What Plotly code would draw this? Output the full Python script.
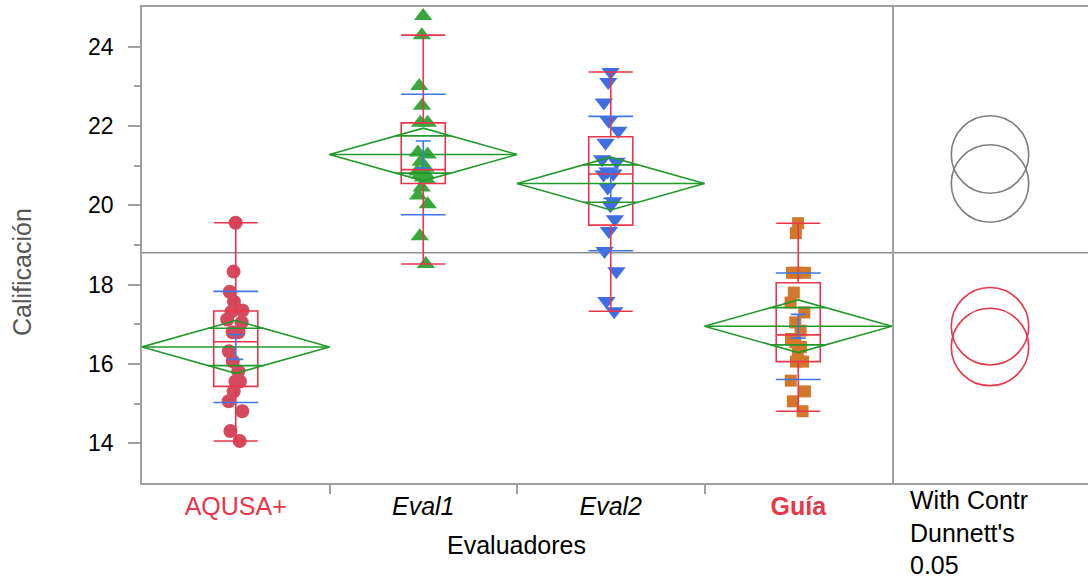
import numpy as np
import plotly.graph_objects as go

# ---------------- data ----------------
categories = ["AQUSA+", "Eval1", "Eval2", "Guía"]
aqusa = [19.56, 18.33, 17.82, 17.57, 17.35, 17.32, 17.12, 17.05, 16.80, 16.80,
         16.32, 16.07, 15.82, 15.56, 15.56, 15.31, 15.06, 14.81, 14.31, 14.06]
eval1 = [24.77, 24.29, 23.01, 22.51, 22.08, 22.08, 21.33, 21.28, 21.10, 20.95,
         20.85, 20.78, 20.78, 20.70, 20.65, 20.45, 20.25, 20.03, 19.22, 18.52]
eval2 = [23.36, 23.11, 22.59, 22.13, 21.88, 21.58, 21.16, 21.10, 20.85, 20.80,
         20.78, 20.45, 20.10, 20.00, 19.65, 19.35, 18.85, 18.34, 17.59, 17.33]
guia = [19.55, 19.30, 18.30, 18.30, 18.30, 17.80, 17.55, 17.30, 17.05, 16.84,
        16.63, 16.55, 16.43, 16.25, 16.06, 16.06, 15.58, 15.31, 15.06, 14.81]
tick_labels = [
    "<span style='color:#E8364A'>AQUSA+</span>",
    "<i>Eval1</i>",
    "<i>Eval2</i>",
    "<span style='color:#E8364A'><b>Guía</b></span>",
]
y_ticks = [14, 16, 18, 20, 22, 24]
y_minor = [15, 17, 19, 21, 23]
control = "Guía"
t_crit = 1.99        # t(0.975, 76 df) for the means diamonds
dunnett_d = 2.92     # comparison-circle multiplier
panel_text = ["With Contr", "Dunnett's", "0.05"]

groups = [aqusa, eval1, eval2, guia]

# ---------------- styles ----------------
FONT = "Liberation Sans, Arial, sans-serif"
BOX_RED = "#E8364A"
GREEN = "#22992A"
BLUE = "#3D78E6"
GRAY = "#A0A0A0"
marker_styles = [
    dict(symbol="circle", color="#D44A5C", size=14),
    dict(symbol="triangle-up", color="#38A83E", size=16),
    dict(symbol="triangle-down", color="#3F6EE0", size=16),
    dict(symbol="square", color="#D3782A", size=12),
]
BOX_W = 0.235

# ---------------- statistics ----------------
arrs = [np.array(g, dtype=float) for g in groups]
n = np.array([len(a) for a in arrs])
means = np.array([a.mean() for a in arrs])
sds = np.array([a.std(ddof=1) for a in arrs])
ses = sds / np.sqrt(n)
pooled_var = sum(((a - a.mean()) ** 2).sum() for a in arrs) / (n.sum() - len(arrs))
pooled_se = np.sqrt(pooled_var) / np.sqrt(n)
ci_half = t_crit * pooled_se
grand_mean = np.concatenate(arrs).mean()
radius = dunnett_d * pooled_se
ctrl = categories.index(control)

fig = go.Figure()

# points (drawn first so the box outlines sit on top)
for i, (a, ms) in enumerate(zip(arrs, marker_styles)):
    fig.add_trace(go.Box(
        x=[i] * len(a), y=a, width=BOX_W, boxpoints="all", jitter=0.45, pointpos=0,
        marker=dict(symbol=ms["symbol"], color=ms["color"], size=ms["size"]),
        line=dict(width=0, color="rgba(0,0,0,0)"), fillcolor="rgba(0,0,0,0)",
        quartilemethod="exclusive", showlegend=False, hoverinfo="y",
    ))

# box outlines (outlier markers hidden, whiskers stop at 1.5 IQR fences)
for i, a in enumerate(arrs):
    fig.add_trace(go.Box(
        x=[i] * len(a), y=a, width=BOX_W, boxpoints="outliers", whiskerwidth=1,
        marker=dict(opacity=0, size=1),
        line=dict(color=BOX_RED, width=1.6), fillcolor="rgba(0,0,0,0)",
        quartilemethod="exclusive", showlegend=False, hoverinfo="skip",
    ))

# means diamonds with overlap marks
k = np.sqrt(2) / 2
for i in range(len(arrs)):
    m, h = means[i], ci_half[i]
    fig.add_trace(go.Scatter(
        x=[i - 0.5, i, i + 0.5, i, i - 0.5, None, i - 0.5, i + 0.5],
        y=[m, m + h, m, m - h, m, None, m, m],
        mode="lines", line=dict(color=GREEN, width=1.6),
        showlegend=False, hoverinfo="skip",
    ))
    w = 0.5 * (1 - k)
    fig.add_trace(go.Scatter(
        x=[i - w, i + w, None, i - w, i + w],
        y=[m + k * h, m + k * h, None, m - k * h, m - k * h],
        mode="lines", line=dict(color=GREEN, width=1.6),
        showlegend=False, hoverinfo="skip",
    ))

# mean error bars (± standard error)
xs = list(range(len(arrs)))
fig.add_trace(go.Scatter(
    x=xs, y=means, mode="markers", marker=dict(size=1, color="rgba(0,0,0,0)"),
    error_y=dict(type="data", array=ses, color=BLUE, thickness=1.6, width=7.5),
    showlegend=False, hoverinfo="skip",
))
# standard deviation lines
fig.add_trace(go.Scatter(
    x=xs + xs, y=list(means + sds) + list(means - sds), mode="markers",
    marker=dict(symbol="line-ew", size=32, line=dict(color=BLUE, width=1.6)),
    showlegend=False, hoverinfo="skip",
))

# comparison circles (Dunnett's with control)
for i in range(len(arrs)):
    diff = abs(means[i] - means[ctrl])
    sig = diff > dunnett_d * np.sqrt(pooled_se[i] ** 2 + pooled_se[ctrl] ** 2)
    col = "#7F7F7F" if sig else BOX_RED
    r = radius[i]
    fig.add_shape(type="circle", xref="x2", yref="y",
                  x0=-r, x1=r, y0=means[i] - r, y1=means[i] + r,
                  line=dict(color=col, width=1.6))

# grand mean line
fig.add_shape(type="line", xref="paper", yref="y", x0=0, x1=1,
              y0=grand_mean, y1=grand_mean, line=dict(color="#909090", width=1.6),
              layer="below")

main_end = (892 - 142) / 946

fig.update_layout(
    width=1088, height=581,
    margin=dict(l=142, r=0, t=7, b=98),
    paper_bgcolor="white", plot_bgcolor="white",
    font=dict(family=FONT, size=23, color="black"),
    boxmode="overlay",
    xaxis=dict(
        domain=[0, main_end], range=[-0.5, 3.5],
        tickvals=xs, ticktext=tick_labels, ticks="",
        tickfont=dict(size=25, color="black"),
        showline=True, linecolor=GRAY, linewidth=1.5, mirror=True,
        showgrid=False, zeroline=False,
        minor=dict(tickvals=[0.5, 1.5, 2.5], ticks="outside", ticklen=9,
                   tickcolor=GRAY, tickwidth=1.5),
    ),
    xaxis2=dict(
        domain=[main_end, 1], anchor="y", range=[-2.3, 2.3],
        scaleanchor="y", scaleratio=1,
        showline=True, linecolor=GRAY, linewidth=1.5, mirror=True,
        showticklabels=False, ticks="", showgrid=False, zeroline=False,
    ),
    yaxis=dict(
        range=[13, 25], tickvals=y_ticks, ticks="outside", ticklen=12,
        tickcolor=GRAY, tickwidth=1.5, tickfont=dict(size=23, color="black"),
        ticklabelstandoff=10,
        showline=True, linecolor=GRAY, linewidth=1.5, mirror=True,
        showgrid=False, zeroline=False,
        minor=dict(tickvals=y_minor, ticks="outside", ticklen=6,
                   tickcolor=GRAY, tickwidth=1.5),
    ),
)

fig.add_annotation(text="Calificación", xref="paper", yref="paper",
                   x=(22 - 142) / 946, y=(483 - 272) / 476, textangle=-90,
                   xanchor="center", yanchor="middle",
                   showarrow=False, font=dict(size=25, color="#555555"))
fig.add_annotation(text="Evaluadores", xref="paper", yref="paper",
                   x=(516 - 142) / 946, y=(483 - 545) / 476,
                   xanchor="center", yanchor="middle",
                   showarrow=False, font=dict(size=25, color="black"))
for txt, yc in zip(panel_text, [500, 533, 565]):
    fig.add_annotation(text=txt, xref="paper", yref="paper",
                       x=(908 - 142) / 946, y=(483 - yc) / 476,
                       xanchor="left", yanchor="middle",
                       showarrow=False, font=dict(size=25, color="black"))

fig.write_html("out.html", post_script="document.body.style.margin='0';",
               config={"displayModeBar": False})
